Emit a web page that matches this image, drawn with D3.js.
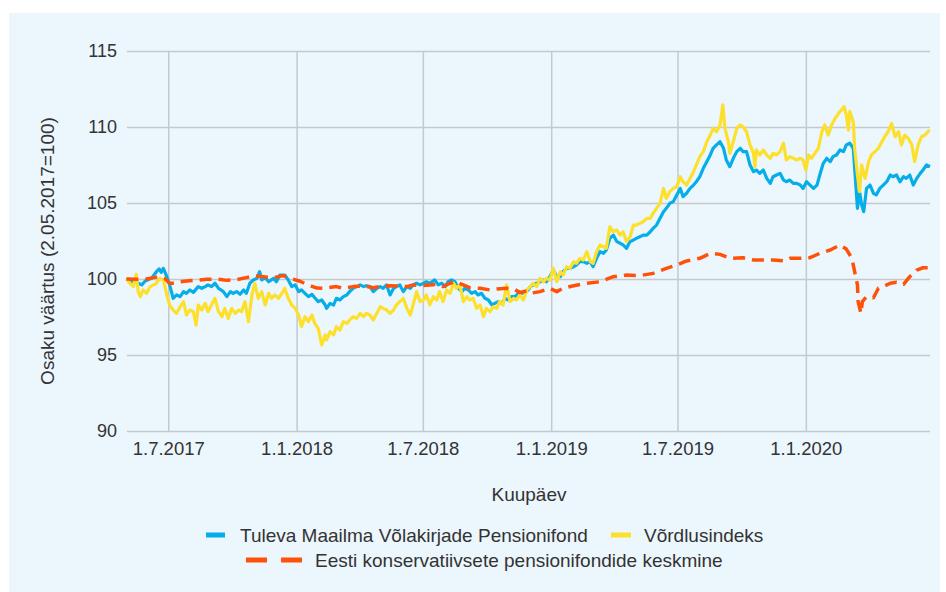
<!DOCTYPE html>
<html><head><meta charset="utf-8">
<script src="https://cdn.jsdelivr.net/npm/d3@7"></script>
<style>
body{margin:0;background:#fff;}
svg{display:block;font-family:"Liberation Sans",Arial,sans-serif;}
</style>
</head><body>
<svg id="chart" width="946" height="592"></svg>
<script>
// ---- data (day offset from 2.05.2017, value) ----
const startDate = new Date(2017, 4, 2);
const endDay = 1152;
const yTicks = [90, 95, 100, 105, 110, 115];
const xTickDates = ["2017-07-01", "2018-01-01", "2018-07-01", "2019-01-01", "2019-07-01", "2020-01-01"];
const xTickLabels = ["1.7.2017", "1.1.2018", "1.7.2018", "1.1.2019", "1.7.2019", "1.1.2020"];
const seriesNames = ["Tuleva Maailma Võlakirjade Pensionifond", "Võrdlusindeks", "Eesti konservatiivsete pensionifondide keskmine"];
const yTitle = "Osaku väärtus (2.05.2017=100)";
const xTitle = "Kuupäev";

const tuleva = [[0,100.0],[10,99.82],[17,99.72],[22,99.61],[27,99.87],[36,100.04],[43,100.48],[47,100.66],[50,100.44],[53,100.70],[58,100.15],[62,99.61],[67,98.73],[72,98.95],[77,98.84],[82,99.17],[86,99.06],[91,99.28],[96,99.12],[103,99.50],[108,99.39],[113,99.50],[117,99.61],[122,99.50],[127,99.72],[132,99.39],[139,99.17],[144,98.84],[149,99.17],[153,99.06],[158,99.17],[163,98.99],[168,99.28],[172,99.06],[177,99.72],[182,99.94],[187,100.04],[191,100.48],[194,99.94],[199,100.09],[204,99.82],[211,100.04],[215,99.82],[220,100.26],[227,100.26],[232,99.94],[237,99.50],[242,99.61],[247,99.17],[251,99.28],[256,99.06],[261,98.84],[266,98.99],[270,98.77],[275,98.51],[280,98.62],[285,98.29],[287,98.07],[292,98.40],[297,98.29],[301,98.73],[306,98.62],[311,98.84],[316,98.95],[320,99.17],[325,99.39],[330,99.50],[335,99.61],[340,99.50],[344,99.56],[349,99.50],[354,99.17],[359,99.39],[364,99.50],[368,99.39],[373,99.61],[378,98.95],[383,99.39],[387,99.50],[392,99.61],[397,99.17],[402,99.50],[407,99.39],[411,99.61],[416,99.72],[421,99.61],[426,99.72],[430,99.82],[435,99.72],[442,99.94],[447,99.61],[452,99.72],[457,99.50],[461,99.82],[466,99.94],[471,99.82],[476,99.39],[481,99.17],[485,99.39],[490,99.28],[495,99.06],[500,99.17],[504,98.95],[509,99.06],[514,98.73],[519,98.62],[524,98.29],[528,98.40],[533,98.51],[538,98.40],[543,98.73],[547,98.62],[552,98.84],[557,98.84],[562,99.06],[567,99.06],[571,99.17],[576,99.28],[579,99.50],[583,99.60],[588,99.72],[593,99.82],[598,99.93],[602,99.82],[607,100.15],[612,100.59],[617,100.15],[622,100.15],[626,100.48],[631,100.70],[636,100.70],[641,100.81],[645,100.92],[650,101.14],[655,101.14],[660,101.03],[665,101.14],[669,100.81],[674,101.36],[679,101.80],[684,101.69],[688,101.91],[693,102.67],[698,102.89],[703,102.46],[708,102.35],[712,102.24],[717,102.02],[722,102.46],[727,102.57],[731,102.67],[736,102.78],[741,102.89],[746,102.89],[751,103.11],[755,103.33],[760,103.55],[765,103.99],[770,104.43],[774,104.65],[779,104.98],[784,105.09],[789,105.53],[794,105.96],[798,105.42],[803,105.64],[808,105.96],[813,106.18],[817,106.40],[822,106.73],[827,107.28],[832,107.72],[837,108.16],[841,108.60],[846,108.82],[851,109.03],[856,108.60],[860,107.83],[865,107.39],[870,107.94],[875,108.38],[880,108.60],[884,108.38],[889,108.38],[894,107.50],[899,107.06],[903,107.17],[908,106.95],[913,107.17],[918,106.62],[923,106.29],[927,106.73],[932,106.84],[937,106.95],[942,106.51],[946,106.40],[951,106.51],[956,106.29],[961,106.29],[966,106.18],[970,105.96],[975,106.40],[980,106.18],[985,105.96],[990,106.18],[994,106.84],[999,107.61],[1004,107.94],[1009,107.72],[1013,108.05],[1018,108.16],[1023,108.49],[1028,108.38],[1032,108.82],[1037,108.93],[1042,108.60],[1044,107.28],[1048,104.65],[1051,105.75],[1054,104.87],[1057,104.43],[1061,105.96],[1066,106.18],[1071,105.64],[1075,105.53],[1080,105.96],[1085,106.18],[1090,106.40],[1095,106.84],[1099,106.73],[1104,106.84],[1109,106.40],[1114,106.73],[1118,106.62],[1123,106.84],[1128,106.18],[1133,106.62],[1138,106.95],[1142,107.17],[1147,107.50],[1152,107.39]];

const benchmark = [[0,100.0],[5,99.72],[10,99.50],[14,100.31],[17,99.17],[20,98.84],[24,99.28],[29,99.06],[34,99.50],[39,99.61],[43,99.72],[48,100.04],[53,99.94],[58,98.95],[62,98.29],[67,97.96],[72,97.74],[77,98.18],[82,98.51],[86,97.63],[91,97.96],[96,97.85],[100,96.97],[103,98.29],[108,97.96],[113,98.40],[117,97.85],[122,98.29],[127,98.73],[132,97.85],[137,97.52],[141,98.07],[146,97.41],[151,98.07],[156,97.74],[161,97.96],[165,97.85],[170,98.51],[175,97.19],[180,98.95],[184,99.72],[189,98.73],[194,99.17],[199,98.29],[204,99.06],[208,98.73],[213,98.95],[218,98.73],[223,99.06],[227,99.39],[232,98.73],[237,98.29],[242,98.07],[247,97.63],[251,96.86],[256,97.52],[261,97.19],[266,97.63],[270,97.08],[275,96.75],[280,95.66],[285,96.32],[287,95.99],[292,96.54],[297,96.32],[301,96.86],[306,96.64],[311,97.19],[316,97.08],[320,97.30],[325,97.52],[330,97.41],[335,97.74],[340,97.52],[344,97.74],[349,97.63],[354,97.30],[359,97.74],[364,98.18],[368,98.07],[373,97.96],[378,97.74],[383,97.96],[387,98.29],[392,98.51],[397,98.73],[402,98.07],[407,97.63],[411,98.29],[416,99.17],[421,98.51],[426,98.62],[430,98.95],[435,98.29],[440,98.84],[445,98.62],[449,99.17],[454,98.51],[459,99.28],[464,99.06],[469,99.72],[473,99.39],[478,99.61],[483,98.51],[488,98.84],[492,98.62],[497,98.73],[502,98.07],[507,98.29],[512,97.52],[516,98.07],[521,97.85],[526,98.18],[531,98.07],[535,98.51],[540,98.29],[545,99.61],[550,98.51],[555,98.73],[559,98.62],[564,98.95],[569,98.62],[574,99.28],[579,99.50],[583,99.72],[588,99.50],[593,100.04],[598,99.82],[602,100.04],[607,99.93],[612,100.70],[617,99.82],[622,100.48],[626,100.26],[631,100.81],[636,100.70],[641,101.14],[645,101.03],[650,101.36],[655,101.25],[660,101.80],[665,101.14],[669,101.03],[674,101.80],[679,102.24],[684,102.13],[688,102.02],[693,103.44],[698,103.11],[703,103.22],[708,102.89],[712,103.11],[717,102.46],[722,102.78],[727,103.55],[731,103.55],[736,103.66],[741,103.77],[746,103.99],[751,103.99],[755,104.32],[760,104.65],[765,104.98],[770,105.96],[774,105.31],[779,105.75],[784,105.96],[789,106.07],[794,106.73],[798,106.40],[803,106.18],[808,106.62],[813,107.06],[817,107.50],[822,108.05],[827,108.38],[832,109.03],[837,109.47],[841,109.91],[846,109.69],[851,110.13],[855,111.45],[858,109.91],[863,109.03],[865,108.27],[870,109.03],[875,109.91],[880,110.13],[884,110.02],[889,109.69],[894,108.82],[899,108.27],[901,107.39],[903,108.49],[908,108.16],[913,108.49],[918,108.16],[923,107.94],[927,108.27],[932,108.16],[937,108.38],[942,108.93],[946,107.83],[951,108.05],[956,107.94],[961,107.83],[966,107.94],[970,107.83],[974,107.17],[978,108.16],[982,107.94],[987,108.27],[992,108.60],[997,109.69],[1001,110.13],[1006,109.47],[1011,110.13],[1016,110.57],[1021,110.90],[1025,111.12],[1029,111.34],[1032,110.79],[1035,109.80],[1037,111.01],[1042,110.35],[1044,108.60],[1048,106.84],[1051,105.75],[1054,107.50],[1059,106.62],[1064,107.72],[1068,108.16],[1073,108.38],[1078,108.60],[1083,109.03],[1087,109.36],[1092,109.69],[1097,110.24],[1102,109.36],[1107,109.69],[1111,108.82],[1116,109.47],[1121,109.25],[1126,108.82],[1130,107.72],[1135,108.82],[1140,109.36],[1145,109.47],[1150,109.74],[1152,109.69]];

const conservative = [[0,100.0],[15,99.98],[29,100.0],[39,100.09],[48,100.15],[55,100.04],[62,99.72],[70,99.72],[77,99.82],[86,99.87],[101,99.91],[115,99.98],[130,100.0],[144,99.91],[158,99.96],[172,100.09],[182,100.22],[196,100.15],[211,100.09],[225,100.22],[235,100.04],[249,99.85],[258,99.65],[273,99.40],[282,99.39],[301,99.50],[311,99.39],[325,99.50],[340,99.54],[354,99.43],[364,99.50],[378,99.56],[392,99.54],[402,99.50],[411,99.61],[421,99.56],[435,99.61],[445,99.65],[454,99.50],[464,99.72],[471,99.82],[481,99.65],[492,99.43],[507,99.39],[521,99.28],[531,99.34],[545,99.39],[555,99.34],[564,99.12],[574,99.21],[579,99.06],[593,99.17],[607,99.39],[617,99.17],[626,99.39],[641,99.56],[660,99.72],[679,99.82],[698,100.15],[717,100.26],[736,100.22],[755,100.37],[774,100.70],[789,100.92],[803,101.19],[822,101.36],[837,101.69],[851,101.62],[865,101.36],[884,101.40],[899,101.25],[913,101.25],[927,101.25],[942,101.19],[951,101.36],[966,101.36],[980,101.40],[994,101.69],[1009,101.91],[1023,102.24],[1032,101.97],[1040,101.36],[1044,100.48],[1048,99.61],[1049,98.51],[1053,97.74],[1055,98.51],[1061,98.84],[1071,98.77],[1078,99.39],[1085,99.50],[1095,99.72],[1104,99.78],[1114,99.65],[1123,100.15],[1133,100.59],[1142,100.74],[1152,100.74]];

const colors = ["#06aee8", "#fde02c", "#ff5208"];

// ---- drawing ----
const svg = d3.select("#chart");
const textColor = "#333";
const gridColor = "#c5c9ce";
const plotL = 127, plotR = 930, plotT = 51, plotB = 431;
const fontFam = "'Liberation Sans', Arial, sans-serif";

svg.append("rect").attr("x", 9).attr("y", 13).attr("width", 931).attr("height", 579).attr("fill", "#ecf6fd");

const toDate = d => d3.timeDay.offset(startDate, d);
const parse = d3.timeParse("%Y-%m-%d");
const x = d3.scaleTime().domain([startDate, toDate(endDay)]).range([126.4, plotR]);
const y = d3.scaleLinear().domain([90, 115]).range([plotB, plotT]);

// y axis + horizontal grid
const yAxis = svg.append("g").attr("transform", `translate(${plotL},0)`)
  .call(d3.axisLeft(y).tickValues(yTicks).tickSizeInner(-(plotR - plotL)).tickSizeOuter(0).tickPadding(10).tickFormat(d3.format("d")));
yAxis.select(".domain").remove();
yAxis.selectAll("line").attr("stroke", gridColor).attr("stroke-width", 1.5);
yAxis.selectAll("text").attr("fill", textColor).style("font-size", "18px").style("font-family", fontFam);

// x axis + vertical grid
const xDates = xTickDates.map(parse);
const xAxis = svg.append("g").attr("transform", `translate(0,${plotB})`)
  .call(d3.axisBottom(x).tickValues(xDates).tickSizeInner(-(plotB - plotT)).tickSizeOuter(0).tickPadding(11)
    .tickFormat((d, i) => xTickLabels[i]));
xAxis.select(".domain").remove();
xAxis.selectAll("line").attr("stroke", gridColor).attr("stroke-width", 1.5);
xAxis.selectAll("text").attr("fill", textColor).style("font-size", "18.5px").style("font-family", fontFam);

// titles
svg.append("text").attr("transform", "translate(54,251) rotate(-90)").attr("text-anchor", "middle")
  .attr("fill", textColor).style("font-size", "19px").text(yTitle);
svg.append("text").attr("x", 529).attr("y", 501).attr("text-anchor", "middle")
  .attr("fill", textColor).style("font-size", "19px").text(xTitle);

// lines
const line = d3.line().x(d => x(toDate(d[0]))).y(d => y(d[1])).curve(d3.curveLinear);
const series = [tuleva, benchmark, conservative];
series.forEach((s, i) => {
  svg.append("path").datum(s).attr("d", line).attr("fill", "none")
    .attr("stroke", colors[i]).attr("stroke-width", i === 2 ? 3.5 : 3.2)
    .attr("stroke-linejoin", "round")
    .attr("stroke-dasharray", i === 2 ? "12,7" : null);
});

// legend
const legend = svg.append("g");
const legendItems = [
  {sx1: 206, sx2: 225, tx: 240, y: 535, dash: null},
  {sx1: 611, sx2: 631, tx: 644, y: 535, dash: null},
  {sx1: 246, sx2: 302, tx: 315, y: 560, dash: "21,14"}
];
legendItems.forEach((it, i) => {
  legend.append("line").attr("x1", it.sx1).attr("x2", it.sx2).attr("y1", it.y).attr("y2", it.y)
    .attr("stroke", colors[i]).attr("stroke-width", 5).attr("stroke-dasharray", it.dash);
  legend.append("text").attr("x", it.tx).attr("y", it.y).attr("dy", "0.35em")
    .attr("fill", textColor).style("font-size", "19px").text(seriesNames[i]);
});
</script>
</body></html>
